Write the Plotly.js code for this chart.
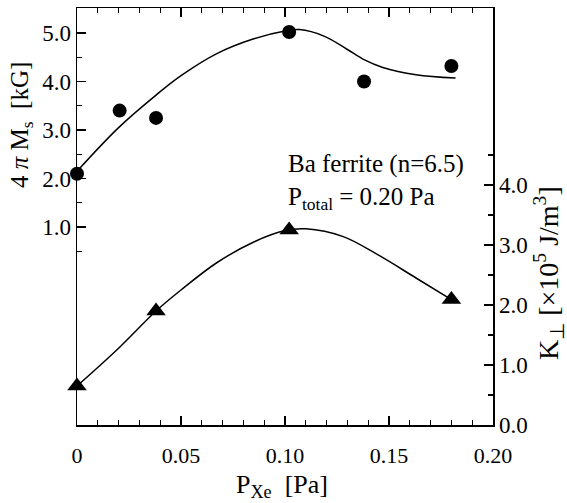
<!DOCTYPE html>
<html>
<head>
<meta charset="utf-8">
<script src="https://cdn.plot.ly/plotly-3.0.1.min.js"></script>
<style>
html,body{margin:0;padding:0;background:#fff;}
#chart{width:567px;height:503px;}
</style>
</head>
<body>
<div id="chart"></div>
<script>
const msX = [0, 0.0205, 0.038, 0.102, 0.138, 0.180];
const msY = [2.1, 3.4, 3.25, 5.02, 4.0, 4.32];
const kX = [0, 0.038, 0.102, 0.180];
const kY = [0.65, 1.90, 3.25, 2.09];
// Fitted guide curves
const msFitX = [0, 0.02, 0.038, 0.05, 0.067, 0.085, 0.100, 0.107, 0.119, 0.130, 0.138, 0.147, 0.163, 0.182];
const msFitY = [2.15, 3.05, 3.72, 4.12, 4.57, 4.88, 5.04, 5.07, 4.93, 4.66, 4.45, 4.29, 4.14, 4.07];
const kFitX = [0, 0.02, 0.038, 0.05, 0.067, 0.085, 0.100, 0.110, 0.128, 0.145, 0.163, 0.180];
const kFitY = [0.65, 1.28, 1.90, 2.25, 2.70, 3.05, 3.24, 3.27, 3.14, 2.83, 2.45, 2.09];
// Tick labels
const xTickVals = [0, 0.05, 0.10, 0.15, 0.20];
const xTickText = ["0", "0.05", "0.10", "0.15", "0.20"];
const yTickVals = [1, 2, 3, 4, 5];
const yTickText = ["1.0", "2.0", "3.0", "4.0", "5.0"];
const y2TickVals = [0, 1, 2, 3, 4];
const y2TickText = ["0.0", "1.0", "2.0", "3.0", "4.0"];

const serif = "Liberation Serif, Times New Roman, serif";

const traces = [
  {x: msFitX, y: msFitY, mode: "lines", line: {color: "#000", width: 1.5, shape: "spline", smoothing: 1}, yaxis: "y", hoverinfo: "skip"},
  {x: msX, y: msY, mode: "markers", marker: {symbol: "circle", size: 14, color: "#000"}, yaxis: "y", cliponaxis: false},
  {x: kFitX, y: kFitY, mode: "lines", line: {color: "#000", width: 1.5, shape: "spline", smoothing: 1}, yaxis: "y2", hoverinfo: "skip"},
  {x: kX, y: kY, mode: "markers", marker: {symbol: "triangle-up", size: 17, color: "#000"}, yaxis: "y2", cliponaxis: false}
];

const layout = {
  width: 567, height: 503,
  margin: {l: 77, r: 74, t: 8, b: 78},
  paper_bgcolor: "#fff", plot_bgcolor: "#fff",
  showlegend: false,
  font: {family: serif, color: "#000", size: 21},
  xaxis: {
    range: [0, 0.2], showgrid: false, zeroline: false,
    showline: true, linecolor: "#000", linewidth: 1.5, mirror: "ticks",
    ticks: "inside", ticklen: 9, tickwidth: 1.3, tickcolor: "#000",
    tickvals: xTickVals, ticktext: xTickText,
    tickfont: {family: serif, size: 22, color: "#000"},
    ticklabelstandoff: 10,
    minor: {tickvals: [0.01,0.02,0.03,0.04,0.06,0.07,0.08,0.09,0.11,0.12,0.13,0.14,0.16,0.17,0.18,0.19], ticks: "inside", ticklen: 5, tickwidth: 1.2, tickcolor: "#000", showgrid: false}
  },
  yaxis: {
    range: [-3.08, 5.515], showgrid: false, zeroline: false,
    showline: true, linecolor: "#000", linewidth: 1.5,
    ticks: "inside", ticklen: 9, tickwidth: 1.3, tickcolor: "#000",
    tickvals: yTickVals, ticktext: yTickText,
    tickfont: {family: serif, size: 23, color: "#000"},
    ticklabelstandoff: 0,
    minor: {tickvals: [0.5,1.5,2.5,3.5,4.5], ticks: "inside", ticklen: 5, tickwidth: 1.2, tickcolor: "#000", showgrid: false}
  },
  yaxis2: {
    overlaying: "y", side: "right",
    range: [0, 6.95], showgrid: false, zeroline: false,
    showline: true, linecolor: "#000", linewidth: 1.5,
    ticks: "inside", ticklen: 9, tickwidth: 1.3, tickcolor: "#000",
    tickvals: y2TickVals, ticktext: y2TickText,
    tickfont: {family: serif, size: 23, color: "#000"},
    minor: {tickvals: [0.5,1.5,2.5,3.5,4.5], ticks: "inside", ticklen: 5, tickwidth: 1.2, tickcolor: "#000", showgrid: false}
  },
  annotations: [
    {xref: "paper", yref: "paper", x: (286-77)/416, y: (425-182)/417, xanchor: "left", yanchor: "middle", align: "left", showarrow: false,
     text: "Ba ferrite (n=6.5)<br>P<sub>total</sub> = 0.20 Pa", font: {family: serif, size: 25, color: "#000"}},
    {xref: "paper", yref: "paper", x: (21-77)/416, y: (425-125)/417, xanchor: "center", yanchor: "middle", textangle: -90, showarrow: false,
     text: "4 <i>π</i> M<sub>s</sub>  [kG]", font: {family: serif, size: 25, color: "#000"}},
    {xref: "paper", yref: "paper", x: (548-77)/416, y: (425-273)/417, xanchor: "center", yanchor: "middle", textangle: -90, showarrow: false,
     text: "K<sub>⊥</sub> [×10<sup>5</sup> J/m<sup>3</sup>]", font: {family: serif, size: 28, color: "#000"}},
    {xref: "paper", yref: "paper", x: (282-77)/416, y: (425-486)/417, xanchor: "center", yanchor: "middle", showarrow: false,
     text: "P<sub>Xe</sub>  [Pa]", font: {family: serif, size: 26, color: "#000"}}
  ]
};

Plotly.newPlot("chart", traces, layout, {staticPlot: true, displayModeBar: false});
</script>
</body>
</html>
